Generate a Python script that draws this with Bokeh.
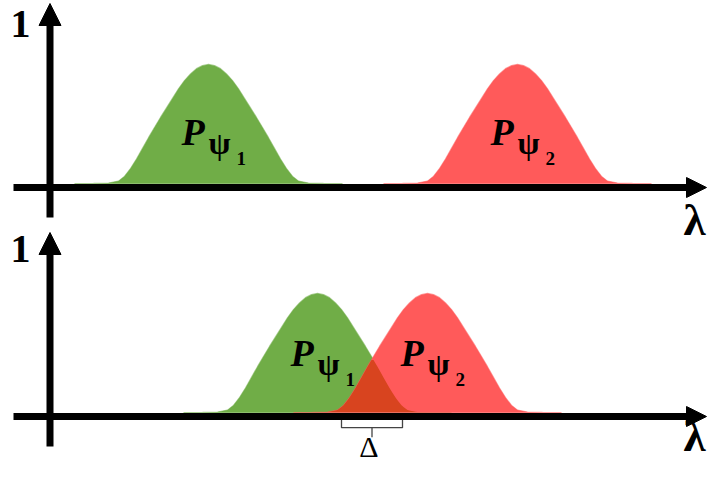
import numpy as np
from bokeh.plotting import figure
from bokeh.models import Range1d, Arrow, NormalHead
from bokeh.core.properties import value
from bokeh.embed import file_html
from bokeh.resources import INLINE

# ---------------- data ----------------
# one wave-packet distribution: offset from its centre (λ units) -> relative height
profile_offset = [0, 6, 12, 18, 24, 30, 36, 42, 48, 54, 60, 66, 72, 78, 84, 90, 100, 115, 134]
profile_height = [1.000, 0.990, 0.965, 0.920, 0.865, 0.795, 0.715, 0.635, 0.555, 0.470,
                  0.385, 0.295, 0.205, 0.125, 0.060, 0.020, 0.004, 0.001, 0.000]
peak_height = 0.744                 # peak of P_psi relative to the "1" mark
top_centers = [208, 517]            # λ of P_psi1, P_psi2 (separated)
bottom_centers = [317, 427]         # λ of P_psi1, P_psi2 (overlapping)
delta_span = [341, 402]             # λ range of the overlap Δ
series_names = ["1", "2"]
series_colors = ["#70AD47", "#FF5A5A"]
overlap_color = "#D8441F"
y_tick_label = "1"
x_axis_label = "λ"
delta_label = "Δ"

# ---------------- style / layout ----------------
SERIF = value("Liberation Serif")
W, H = 707, 463
PX = 160.0                          # pixels per probability unit
TOP_AXIS, BOT_AXIS = 187, 416       # pixel rows of the two λ axes
curve_base = 0.025
axis_lw = 7

p = figure(width=W, height=H, x_range=Range1d(0, W),
           y_range=Range1d((TOP_AXIS - H) / PX, TOP_AXIS / PX),
           output_backend="svg", toolbar_location=None, min_border=0,
           outline_line_color=None, x_axis_location=None, y_axis_location=None,
           background_fill_color="white", border_fill_color="white")
p.grid.visible = False
p.extra_y_ranges = {"bottom": Range1d((BOT_AXIS - H) / PX, BOT_AXIS / PX)}

off = np.array(profile_offset, dtype=float)
hgt = np.array(profile_height, dtype=float)


def curve(center):
    xs = np.concatenate([center - off[::-1], center + off[1:]])
    ys = np.concatenate([hgt[::-1], hgt[1:]]) * peak_height + curve_base
    return xs, ys


def txt(x, row, axis_row, s, size, style, rng, align="left"):
    # place text so that its baseline lands on pixel row `row`
    y = (axis_row - (row - 0.38 * size)) / PX
    p.text(x=[x], y=[y], text=[s], text_font=SERIF, text_font_style=style,
           text_font_size=f"{size}px", text_align=align, text_baseline="alphabetic",
           y_range_name=rng)


def panel(centers, rng, axis_row, p_row, one_row, lam_row, with_overlap):
    curves = []
    for c, col in zip(centers, series_colors):
        xs, ys = curve(c)
        curves.append((xs, ys))
        p.patch(xs, ys, fill_color=col, line_color=col, line_width=1.2, line_alpha=0.6,
                y_range_name=rng)
    if with_overlap:
        (gx, gy), (rx, ry) = curves
        grid = np.union1d(gx, rx)
        g = np.interp(grid, gx, gy, left=curve_base, right=curve_base)
        r = np.interp(grid, rx, ry, left=curve_base, right=curve_base)
        m = np.minimum(g, r)
        idx = np.where(m > curve_base + 0.003)[0]
        lo, hi = max(idx[0] - 1, 0), min(idx[-1] + 1, len(grid) - 1)
        p.patch(grid[lo:hi + 1], m[lo:hi + 1], fill_color=overlap_color,
                line_color=None, y_range_name=rng)
    for c, sub in zip(centers, series_names):
        txt(c - 27, p_row, axis_row, "P", 38, "bold italic", rng)
        txt(c + 0, p_row + 9, axis_row, "ψ", 32, "bold", rng)
        txt(c + 28, p_row + 19, axis_row, sub, 19, "bold", rng)
    p.add_layout(Arrow(end=NormalHead(size=20, fill_color="black", line_color="black"),
                       x_start=13, y_start=0, x_end=706, y_end=0,
                       line_width=axis_lw, line_color="black", y_range_name=rng))
    txt(20, one_row, axis_row, y_tick_label, 40, "bold", rng, "center")
    txt(694, lam_row, axis_row, x_axis_label, 45, "bold", rng, "center")


panel(top_centers, "default", TOP_AXIS, 146, 39, 237, False)
panel(bottom_centers, "bottom", BOT_AXIS, 367, 264, 453, True)

# vertical (probability) axes
p.add_layout(Arrow(end=NormalHead(size=22, fill_color="black", line_color="black"),
                   x_start=49.5, y_start=-0.1875, x_end=49.5, y_end=(TOP_AXIS - 3) / PX,
                   line_width=axis_lw, line_color="black", y_range_name="default"))
p.add_layout(Arrow(end=NormalHead(size=22, fill_color="black", line_color="black"),
                   x_start=49.5, y_start=-0.1875, x_end=49.5, y_end=(BOT_AXIS - 232) / PX,
                   line_width=axis_lw, line_color="black", y_range_name="bottom"))

# brace marking the overlap Δ
mid = (delta_span[0] + delta_span[1]) / 2
p.multi_line(xs=[[delta_span[0], delta_span[0], delta_span[1], delta_span[1]], [mid, mid]],
             ys=[[-0.02, -0.07, -0.07, -0.02], [-0.07, -0.13]],
             line_color="#444444", line_width=1.3, y_range_name="bottom")
txt(mid - 3, 457, BOT_AXIS, delta_label, 30, "normal", "bottom", "center")

open("out.html", "w").write(file_html(p, INLINE))
